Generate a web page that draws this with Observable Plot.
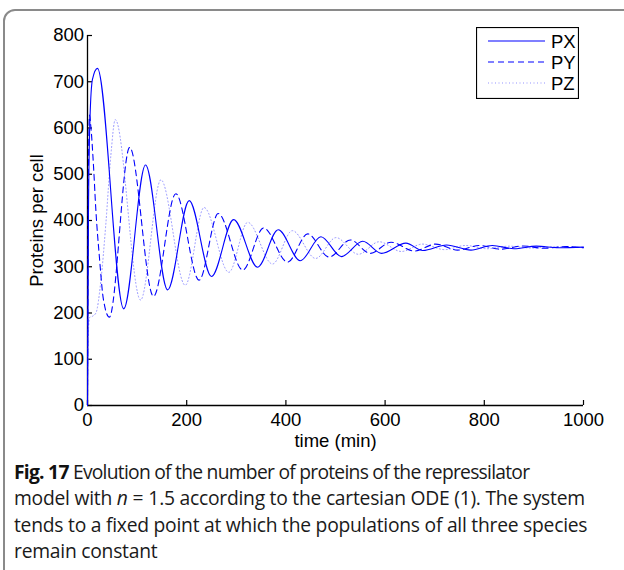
<!DOCTYPE html>
<html>
<head>
<meta charset="utf-8">
<script src="https://cdn.jsdelivr.net/npm/d3@7"></script>
<script src="https://cdn.jsdelivr.net/npm/@observablehq/plot@0.6"></script>
<style>
  html, body { margin: 0; padding: 0; background: #fff; }
  #page { position: relative; width: 624px; height: 570px; overflow: hidden; background: #fff; }
  #frame { position: absolute; left: 3px; top: 9px; width: 680px; height: 640px; border: 2px solid #8a8a8a; border-radius: 12px; }
  #chart { position: absolute; left: 0; top: 0; }
  #chart svg text { font-family: 'Liberation Sans', Arial, sans-serif !important; font-size: 18.5px !important; }
  #legend { position: absolute; left: 476px; top: 27px; }
  #caption { position: absolute; left: 14px; top: 459px; width: 610px; white-space: nowrap; font-family: "Open Sans", "Noto Sans", sans-serif; font-size: 19.3px; line-height: 26.3px; color: #1a1a1a; letter-spacing: -0.25px; }
  #caption .l1 { letter-spacing: -0.75px; }
  #caption b { font-weight: 700; color: #111; }
  #caption .eq { padding: 0 5px; }
</style>
</head>
<body>
<div id="page">
  <div id="frame"></div>
  <div id="chart"></div>
  <div id="legend"></div>
  <div id="caption"><span class="l1"><b>Fig. 17</b> Evolution of the number of proteins of the repressilator</span><br>model with <i>n</i><span class="eq">=</span>1.5 according to the cartesian ODE (1). The system<br>tends to a fixed point at which the populations of all three species<br>remain constant</div>
</div>
<script>
// ---- data (time in min, proteins per cell) ----
const xTicks = [0, 200, 400, 600, 800, 1000];
const yTicks = [0, 100, 200, 300, 400, 500, 600, 700, 800];
const seriesNames = ["PX", "PY", "PZ"];

const pxPoints = [
  [0, 0], [2, 420], [5, 620], [10, 705], [20, 729], [73, 209], [117, 520], [161.6, 250],
  [205, 443], [250, 279], [294.6, 402], [343, 299], [384.5, 380], [429, 313], [470.6, 365],
  [512, 322], [555, 355], [593, 329], [642, 351], [676, 335], [724, 347], [773, 336],
  [816, 346], [860, 339], [905, 344.5], [950, 341], [1000, 342.5]
];
const pyPoints = [
  [0, 0], [1.5, 450], [4, 628], [7, 600], [12, 520], [17, 420], [24, 321], [32, 230],
  [44, 191], [85, 558], [133, 236], [178, 458], [225, 271], [263.6, 415], [313, 293],
  [355, 384], [403.5, 310], [444, 371], [487, 321], [530, 358], [570, 329], [612, 353],
  [659, 334], [702, 349], [746, 336], [790, 346], [833, 338], [878, 345], [920, 340],
  [965, 343.5], [1000, 341]
];
const pzPoints = [
  [0, 0], [1.5, 150], [4, 190], [10, 193], [17, 200], [27, 270], [37, 393], [47, 540],
  [56, 618], [107, 228], [148, 488], [197, 260], [235, 428], [285, 288], [323, 396],
  [373, 306], [413, 378], [460, 318], [501, 363], [546, 327], [588, 354], [633, 333],
  [675, 349], [720, 337], [762, 346], [806, 339], [850, 344.5], [895, 340.5], [940, 343],
  [1000, 342]
];

// ---- layout ----
const W = 624, H = 450;
const mL = 87, mR = 41, mT = 35, mB = 45;
const innerW = W - mL - mR, innerH = H - mT - mB;
const font = "'Liberation Sans', Arial, sans-serif";

const styles = {
  PX: {stroke: "#0000ff", strokeWidth: 1.1},
  PY: {stroke: "#0000ff", strokeWidth: 1.1, strokeDasharray: "6,4"},
  PZ: {stroke: "#9393ff", strokeWidth: 1, strokeDasharray: "1,2.5"}
};

const chart = Plot.plot({
  width: W, height: H,
  marginLeft: mL, marginRight: mR, marginTop: mT, marginBottom: mB,
  x: {domain: [0, 1000]},
  y: {domain: [0, 800]},
  style: {fontFamily: font, fontSize: "18.5px", color: "black", background: "transparent", overflow: "visible"},
  marks: [
    Plot.axisX({ticks: xTicks, tickFormat: d => String(d), tickSize: 0, tickPadding: 7, label: "time (min)", labelAnchor: "center", labelOffset: 41, labelArrow: "none"}),
    Plot.axisY({ticks: yTicks, tickFormat: d => String(d), tickSize: 0, tickPadding: 3.5, label: "Proteins per cell", labelAnchor: "center", labelOffset: 58, labelArrow: "none"}),
    Plot.tickX(xTicks, {x: d => d, insetTop: innerH - 5, stroke: "black", strokeWidth: 1.2}),
    Plot.tickY(yTicks, {y: d => d, insetRight: innerW - 5, stroke: "black", strokeWidth: 1.2}),
    Plot.ruleX([0], {stroke: "black", strokeWidth: 1.3}),
    Plot.ruleY([0], {stroke: "black", strokeWidth: 1.3}),
    Plot.line(pzPoints, {x: d => d[0], y: d => d[1], curve: "monotone-x", ...styles.PZ}),
    Plot.line(pyPoints, {x: d => d[0], y: d => d[1], curve: "monotone-x", ...styles.PY}),
    Plot.line(pxPoints, {x: d => d[0], y: d => d[1], curve: "monotone-x", ...styles.PX})
  ]
});
document.getElementById("chart").appendChild(chart);

// ---- legend (MATLAB-style box) ----
const lw = 103, lh = 72;
const leg = d3.select("#legend").append("svg").attr("width", lw).attr("height", lh);
leg.append("rect").attr("x", 0.5).attr("y", 0.5).attr("width", lw - 1).attr("height", lh - 1)
  .attr("fill", "white").attr("stroke", "black").attr("stroke-width", 1.2);
seriesNames.forEach((name, i) => {
  const yy = 14 + i * 21;
  const s = styles[name];
  leg.append("line").attr("x1", 12).attr("x2", 69).attr("y1", yy).attr("y2", yy)
    .attr("stroke", s.stroke).attr("stroke-width", s.strokeWidth)
    .attr("stroke-dasharray", s.strokeDasharray || null);
  leg.append("text").attr("x", 75).attr("y", yy + 6.5).text(name)
    .attr("font-family", font).attr("font-size", 18.5).attr("fill", "black");
});
</script>
</body>
</html>
